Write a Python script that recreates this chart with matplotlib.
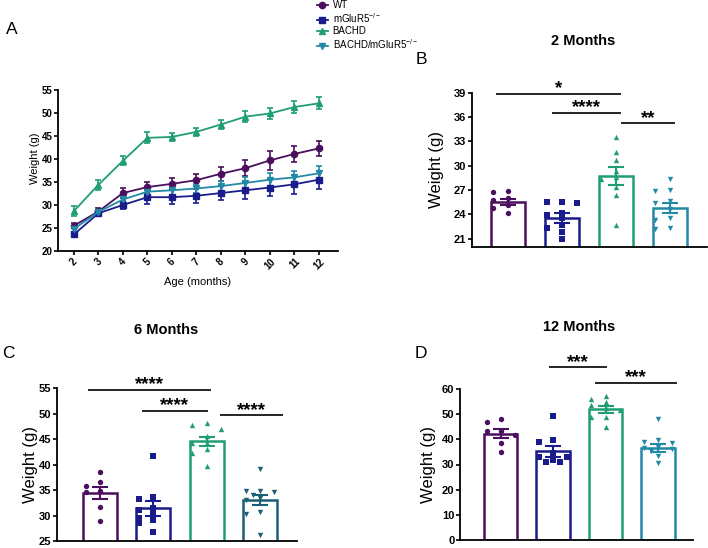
import matplotlib
matplotlib.use("Agg")
import matplotlib.pyplot as plt
from matplotlib.lines import Line2D
import numpy as np

plt.rcParams['font.family'] = ['Liberation Sans', 'DejaVu Sans']
plt.rcParams['mathtext.fontset'] = 'custom'
plt.rcParams['mathtext.rm'] = 'Liberation Sans'
plt.rcParams['mathtext.it'] = 'Liberation Sans:italic'
plt.rcParams['mathtext.bf'] = 'Liberation Sans:bold'

# ---------------- data ----------------
groups = ['WT', 'mGluR5$^{-/-}$', 'BACHD', 'BACHD/mGluR5$^{-/-}$']
months = [2, 3, 4, 5, 6, 7, 8, 9, 10, 11, 12]

wt_mean = [25.5, 28.6, 32.6, 33.9, 34.6, 35.4, 36.8, 38.0, 39.7, 41.1, 42.3]
wt_sem = [0.5, 0.8, 1.1, 1.2, 1.2, 1.3, 1.5, 1.7, 2.0, 1.8, 1.7]
mg_mean = [23.6, 28.2, 30.0, 31.7, 31.7, 32.0, 32.6, 33.2, 33.8, 34.5, 35.5]
mg_sem = [0.4, 0.6, 0.9, 1.5, 1.5, 1.5, 1.6, 1.9, 1.9, 2.0, 2.0]
bh_mean = [28.7, 34.4, 39.6, 44.6, 44.8, 45.9, 47.5, 49.2, 49.9, 51.3, 52.1]
bh_sem = [1.0, 1.1, 1.0, 1.2, 0.9, 0.9, 1.0, 1.2, 1.2, 1.3, 1.3]
bm_mean = [24.8, 28.5, 31.2, 32.9, 33.2, 33.6, 34.1, 34.8, 35.5, 36.0, 36.9]
bm_sem = [0.6, 0.7, 0.8, 1.0, 1.0, 1.0, 1.1, 1.2, 1.5, 1.5, 1.5]

# 2 months
b_means = [25.5, 23.5, 28.7, 24.8]
b_sems = [0.4, 0.6, 1.1, 0.6]
b_wt = [26.9, 26.0, 24.2, 25.2, 26.7, 25.7, 24.8]
b_mg = [25.5, 25.4, 25.5, 24.2, 23.9, 23.5, 22.7, 21.8, 21.0, 22.3]
b_bh = [33.5, 31.7, 30.65, 29.4, 28.6, 28.4, 27.4, 26.35, 22.7]
b_bm = [26.9, 27.0, 28.3, 25.6, 24.6, 22.2, 23.3, 25.4, 23.5, 22.3]

# 6 months
c_means = [34.5, 31.4, 44.6, 33.0]
c_sems = [1.2, 1.5, 0.9, 1.0]
c_wt = [38.5, 35.9, 36.6, 34.9, 34.7, 31.6, 29.0]
c_mg = [41.7, 33.3, 33.6, 31.5, 30.4, 29.1, 31.1, 29.6, 26.8, 28.5]
c_bh = [47.1, 47.8, 48.1, 45.6, 44.2, 42.2, 39.8, 43.0, 44.3]
c_bm = [39.2, 34.7, 34.8, 34.8, 34.0, 33.1, 30.4, 30.7, 26.2, 33.5]

# 12 months
d_means = [42.3, 35.2, 51.9, 36.6]
d_sems = [1.7, 2.2, 1.3, 1.5]
d_wt = [48.1, 47.0, 43.3, 43.3, 38.4, 35.1, 41.7]
d_mg = [49.3, 39.1, 39.7, 34.5, 31.1, 33.1, 31.8, 33.1, 31.1]
d_bh = [55.0, 56.0, 57.2, 52.3, 51.5, 49.0, 45.0, 48.8, 53.5]
d_bm = [48.1, 38.4, 39.7, 38.8, 36.0, 33.4, 30.7, 36.5, 36.8, 35.5]

# significance brackets: (x start, x end, level, label)
b_sig = [(-0.22, 2.09, 38.9, '*'), (0.81, 2.09, 36.5, '****'), (2.10, 3.09, 35.2, '**')]
c_sig = [(-0.22, 2.09, 54.7, '****'), (0.78, 2.03, 50.6, '****'), (2.25, 3.43, 49.7, '****')]
d_sig = [(0.92, 2.02, 68.6, '***'), (1.80, 3.36, 62.5, '***')]

# ---------------- style ----------------
col_wt = '#4b0f5e'
col_mg = '#1a1c8c'
col_bh = '#1f9e73'
col_bm = '#2289a7'
col_bm_c = '#1c5e76'
markers = ['o', 's', '^', 'v']

fig = plt.figure(figsize=(7.08, 5.48), dpi=100)
W, H = 708.0, 548.0


def ax_at(l, t, r, b):
    return fig.add_axes([l / W, 1 - b / H, (r - l) / W, (b - t) / H])


def style_axes(ax, tick_fs):
    for s in ['top', 'right']:
        ax.spines[s].set_visible(False)
    for s in ['left', 'bottom']:
        ax.spines[s].set_linewidth(1.3)
    ax.tick_params(axis='both', width=1.2, length=3, labelsize=tick_fs, pad=1.0)
    for lab in ax.get_yticklabels() + ax.get_xticklabels():
        lab.set_fontweight('bold')


# ---------------- panel A ----------------
axA = ax_at(58, 90, 338, 251)
series = [(wt_mean, wt_sem, col_wt), (mg_mean, mg_sem, col_mg),
          (bh_mean, bh_sem, col_bh), (bm_mean, bm_sem, col_bm)]
for (m, e, c), mk in zip(series, markers):
    axA.errorbar(months, m, yerr=e, color=c, marker=mk, markersize=4.5,
                 lw=1.3, elinewidth=1.2, capsize=2.5, capthick=1.2, clip_on=False)
axA.set_xlim(1.35, 12.78)
axA.set_ylim(20, 55)
axA.set_yticks(np.arange(20, 56, 5))
axA.set_xticks(months)
axA.set_xticklabels([str(m) for m in months], rotation=45, ha='center', va='top')
style_axes(axA, 7)
axA.set_ylabel('Weight (g)', fontsize=8, va='center')
axA.yaxis.set_label_coords(-0.082, 0.578)
axA.set_xlabel('Age (months)', fontsize=8, va='center')
axA.xaxis.set_label_coords(0.5, -0.19)

handles = [Line2D([], [], color=c, marker=mk, markersize=4.5, lw=1.3)
           for (_, _, c), mk in zip(series, markers)]
fig.legend(handles, groups, loc='center left', bbox_to_anchor=(317 / W, 1 - 25.5 / H),
           frameon=False, fontsize=7, handlelength=1.1, handletextpad=0.5,
           labelspacing=0.12, borderpad=0, borderaxespad=0)


# ---------------- bar panels ----------------
def swarm(vals, thresh):
    cands = [0.0, -0.27, 0.27, -0.135, 0.135]
    placed = []
    offs = [0.0] * len(vals)
    for i in sorted(range(len(vals)), key=lambda k: -vals[k]):
        for c in cands:
            if all(abs(v - vals[i]) >= thresh or abs(o - c) >= 0.12 for v, o in placed):
                offs[i] = c
                break
        placed.append((vals[i], offs[i]))
    return np.array(offs)


def bar_panel(box, means, sems, pts, cols, ylim, yticks, xlim, sig):
    ax = ax_at(*box)
    x = np.arange(4)
    for i in range(4):
        ax.bar(x[i], means[i], width=0.64, facecolor='white', edgecolor=cols[i],
               linewidth=1.8, zorder=2)
        ax.errorbar(x[i], means[i], yerr=sems[i], fmt='none', ecolor=cols[i],
                    elinewidth=1.5, capsize=5.5, capthick=1.5, zorder=3)
        offs = swarm(pts[i], 0.035 * (ylim[1] - ylim[0]))
        ax.scatter(x[i] + offs, pts[i], marker=markers[i], s=15, color=cols[i],
                   zorder=4, clip_on=False, linewidths=0)
    ax.set_xlim(*xlim)
    ax.set_ylim(*ylim)
    ax.set_yticks(yticks)
    ax.set_xticks([])
    style_axes(ax, 8)
    for (x0, x1, lvl, lab) in sig:
        ax.plot([x0, x1], [lvl, lvl], color='black', lw=1.2, clip_on=False,
                solid_capstyle='butt')
        ax.annotate(lab, ((x0 + x1) / 2, lvl), xytext=(0, 0.5), textcoords='offset points',
                    ha='center', va='baseline', fontsize=13.5, fontweight='bold',
                    annotation_clip=False)
    ax.set_ylabel('Weight (g)', fontsize=12, va='center')
    return ax


axB = bar_panel((471.7, 92.7, 706.7, 246.7), b_means, b_sems, [b_wt, b_mg, b_bh, b_bm],
                [col_wt, col_mg, col_bh, col_bm], (20, 39), np.arange(21, 40, 3),
                (-0.67, 3.68), b_sig)
axB.yaxis.set_label_coords(-0.149, 0.5)

axC = bar_panel((56.7, 388.3, 296.7, 541), c_means, c_sems, [c_wt, c_mg, c_bh, c_bm],
                [col_wt, col_mg, col_bh, col_bm_c], (25, 55), np.arange(25, 56, 5),
                (-0.81, 3.69), c_sig)
axC.yaxis.set_label_coords(-0.11, 0.5)

axD = bar_panel((460, 389, 693.3, 540), d_means, d_sems, [d_wt, d_mg, d_bh, d_bm],
                [col_wt, col_mg, col_bh, col_bm], (0, 60), np.arange(0, 61, 10),
                (-0.775, 3.67), d_sig)
axD.yaxis.set_label_coords(-0.137, 0.5)

# titles and panel letters
fig.text(583 / W, 1 - 40.7 / H, '2 Months', ha='center', va='center', fontsize=10.5, fontweight='bold')
fig.text(166 / W, 1 - 330 / H, '6 Months', ha='center', va='center', fontsize=10.5, fontweight='bold')
fig.text(579 / W, 1 - 327 / H, '12 Months', ha='center', va='center', fontsize=10.5, fontweight='bold')
for lab, (px, py) in {'A': (12, 30), 'B': (421, 60), 'C': (8.3, 353), 'D': (420.8, 354)}.items():
    fig.text(px / W, 1 - py / H, lab, ha='center', va='center', fontsize=12.5)

fig.savefig('out.png', dpi=100)
